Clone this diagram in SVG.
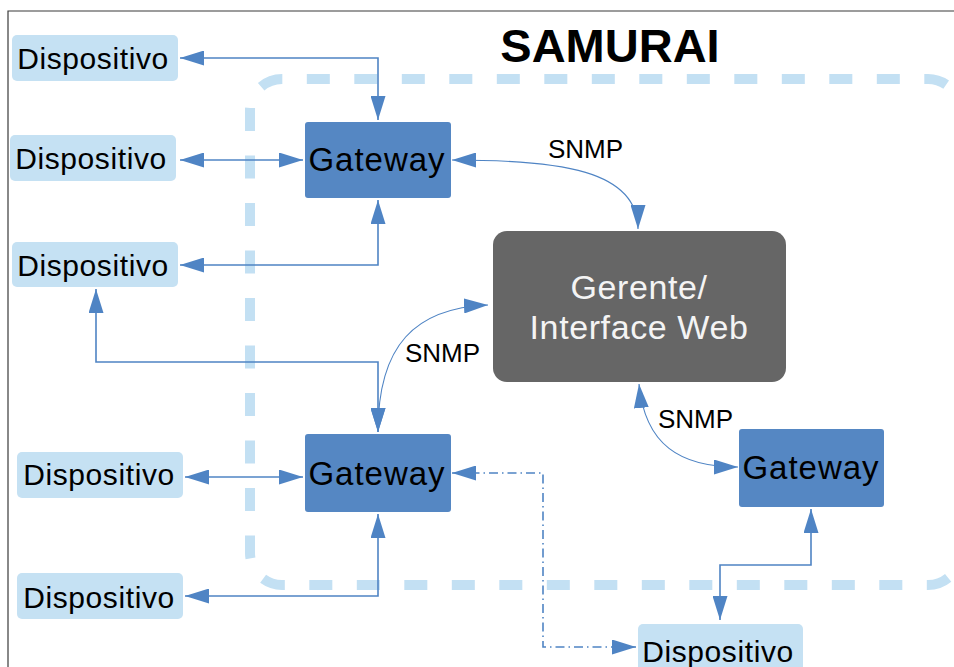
<svg xmlns="http://www.w3.org/2000/svg" width="954" height="667" viewBox="0 0 954 667">
  <defs>
    <style>
      .frame { fill: none; stroke: #3a3a3a; stroke-width: 1.2; }
      .zone { fill: none; stroke: #c3e0f3; stroke-width: 10; stroke-dasharray: 23 24.5; }
      .dev rect { fill: #c5e1f3; }
      .gw rect { fill: #5587c3; }
      .mgr rect { fill: #666666; }
      .lbl { font-family: "Liberation Sans", Arial, sans-serif; fill: #000; text-anchor: middle; }
      .dev text { font-size: 30px; letter-spacing: 0.6px; }
      .gw text { font-size: 33px; letter-spacing: 1px; }
      .mgr text { font-size: 34px; letter-spacing: 0.6px; fill: #f4f4f4; }
      .title { font-family: "Liberation Sans", Arial, sans-serif; font-weight: bold; font-size: 47px; text-anchor: middle; fill: #000; }
      .snmp { font-family: "Liberation Sans", Arial, sans-serif; font-size: 26px; fill: #000; }
      .link { fill: none; stroke: #4f84c4; stroke-width: 1.6; marker-start: url(#tip); marker-end: url(#tip); }
      .link.curve { stroke-width: 1.1; }
      .link.alt { stroke-dasharray: 9 4 1.5 4; }
    </style>
    <marker id="tip" markerUnits="userSpaceOnUse" markerWidth="24" markerHeight="15" refX="24" refY="7.5" orient="auto-start-reverse">
      <path d="M0,0 L24,7.5 L0,15 z" fill="#4f84c4"/>
    </marker>
  </defs>

  <rect width="954" height="667" fill="#ffffff"/>
  <!-- page frame -->
  <path class="frame" d="M8,667 V11 H954"/>

  <!-- system boundary: top run, then left, bottom and right runs -->
  <path class="zone" style="stroke-dashoffset:20" d="M250,111 A32,32 0 0 1 282,79 H928 A32,32 0 0 1 960,111"/>
  <path class="zone" d="M250,108 V553 A32,32 0 0 0 282,585 H928 A32,32 0 0 0 960,553 V111"/>
  <text class="title" x="610" y="62">SAMURAI</text>

  <!-- connectors -->
  <g id="connectors">
    <path class="link" d="M180,58 H378 V120"/>
    <path class="link" d="M180,160 H303"/>
    <path class="link" d="M378,200 V265 H180"/>
    <path class="link" d="M96,289 V362 H378 V432"/>
    <path class="link" d="M185,477 H303"/>
    <path class="link" d="M378,514 V596 H185"/>
    <path class="link alt" d="M452,473 H543 V647 H636"/>
    <path class="link" d="M811,509 V565 H720 V620"/>
    <path class="link curve" d="M452,160 C560,160 638,170 638,229"/>
    <path class="link curve" d="M378,432 C378,345 415,308 488,305"/>
    <path class="link curve" d="M639,384 C645,445 680,467 738,467"/>
    <text class="snmp" x="548" y="158">SNMP</text>
    <text class="snmp" x="405" y="362">SNMP</text>
    <text class="snmp" x="658" y="428">SNMP</text>
  </g>

  <!-- devices -->
  <g id="dev1" class="dev"><rect x="12" y="35" width="166" height="46" rx="5"/><text class="lbl" x="93" y="69">Dispositivo</text></g>
  <g id="dev2" class="dev"><rect x="10" y="135" width="166" height="46" rx="5"/><text class="lbl" x="91" y="169">Dispositivo</text></g>
  <g id="dev3" class="dev"><rect x="12" y="242" width="166" height="45" rx="5"/><text class="lbl" x="93" y="276">Dispositivo</text></g>
  <g id="dev4" class="dev"><rect x="17" y="452" width="166" height="46" rx="5"/><text class="lbl" x="99" y="485">Dispositivo</text></g>
  <g id="dev5" class="dev"><rect x="17" y="573" width="166" height="46" rx="5"/><text class="lbl" x="99" y="608">Dispositivo</text></g>
  <g id="dev6" class="dev"><rect x="638" y="624" width="165" height="50" rx="5"/><text class="lbl" x="718" y="662">Dispositivo</text></g>

  <!-- gateways -->
  <g id="gw1" class="gw"><rect x="305" y="122" width="146" height="76" rx="3"/><text class="lbl" x="377" y="171">Gateway</text></g>
  <g id="gw2" class="gw"><rect x="305" y="434" width="146" height="78" rx="3"/><text class="lbl" x="377" y="485">Gateway</text></g>
  <g id="gw3" class="gw"><rect x="739" y="429" width="145" height="78" rx="3"/><text class="lbl" x="811" y="479">Gateway</text></g>

  <!-- manager -->
  <g id="manager" class="mgr">
    <rect x="493" y="231" width="293" height="151" rx="14"/>
    <text class="lbl" x="639" y="299">Gerente/</text>
    <text class="lbl" x="639" y="339">Interface Web</text>
  </g>
</svg>
